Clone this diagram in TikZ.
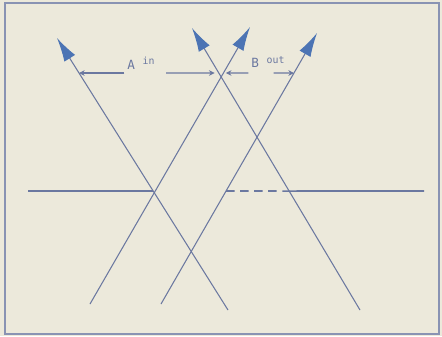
\documentclass[tikz,border=0pt]{standalone}
\usepackage{fontspec}
\setmonofont{DejaVu Sans Mono}
\usepackage{tikz}
\usetikzlibrary{arrows.meta}
\definecolor{paper}{HTML}{ECE9DB}
\definecolor{ink}{HTML}{6B78A0}
\definecolor{tipblue}{HTML}{4C74B4}
\tikzset{
  ray/.style={draw=ink, line width=0.75pt, -{Latex[length=17pt,width=9pt,color=tipblue]}},
  level/.style={draw=ink, line width=1.1pt},
  dimarrow/.style={draw=ink, line width=0.8pt, -{Stealth[length=4pt,width=4pt]}},
  lab/.style={text=ink, inner sep=0pt, font=\ttfamily\small}
}

\begin{document}
\begin{tikzpicture}[x=0.25mm, y=-0.25mm]
\fill[paper] (0,0) rectangle (442,336);
\useasboundingbox (0,0) rectangle (442,336);
\draw[ink!80, line width=1pt] (5,3) rectangle (439,334);

% ray ends
\coordinate (r1b) at (228,310); \coordinate (r1t) at (57,38);
\coordinate (r2b) at (90,304);  \coordinate (r2t) at (250,27);
\coordinate (r3b) at (161,304); \coordinate (r3t) at (317,33);
\coordinate (r4b) at (360,310); \coordinate (r4t) at (192,28);
\draw[ray] (r1b) -- (r1t);
\draw[ray] (r2b) -- (r2t);
\draw[ray] (r3b) -- (r3t);
\draw[ray] (r4b) -- (r4t);

% level line
\coordinate (hl) at (28,191);
\coordinate (hr) at (424,191);
\coordinate (hx12) at (intersection of r1b--r1t and hl--hr);
\coordinate (hx3) at (intersection of r3b--r3t and hl--hr);
\coordinate (hx4) at (intersection of r4b--r4t and hl--hr);
\draw[level] (hl) -- (hx12);
\draw[level, dash pattern=on 6pt off 4pt] (hx3) -- (hx4);
\draw[level] (hx4) -- (hr);

% widths at the top
\coordinate (dl) at (0,73);
\coordinate (dr) at (442,73);
\coordinate (d1) at (intersection of r1b--r1t and dl--dr);
\coordinate (d24) at (intersection of r4b--r4t and dl--dr);
\coordinate (d3) at (intersection of r3b--r3t and dl--dr);
\node[lab] (alab) at (141,63) {A \raisebox{.7ex}{\scriptsize in}};
\node[lab] (blab) at (268,62) {B \raisebox{.7ex}{\scriptsize out}};
\draw[dimarrow] ([xshift=-2]alab.west |- d1) -- (d1);
\draw[dimarrow] ([xshift=8]alab.east |- d1) -- ([xshift=-3]d24);
\draw[dimarrow] ([xshift=-2]blab.west |- d1) -- ([xshift=5]d24);
\draw[dimarrow] ([xshift=-8]blab.east |- d1) -- (d3);
\end{tikzpicture}
\end{document}
